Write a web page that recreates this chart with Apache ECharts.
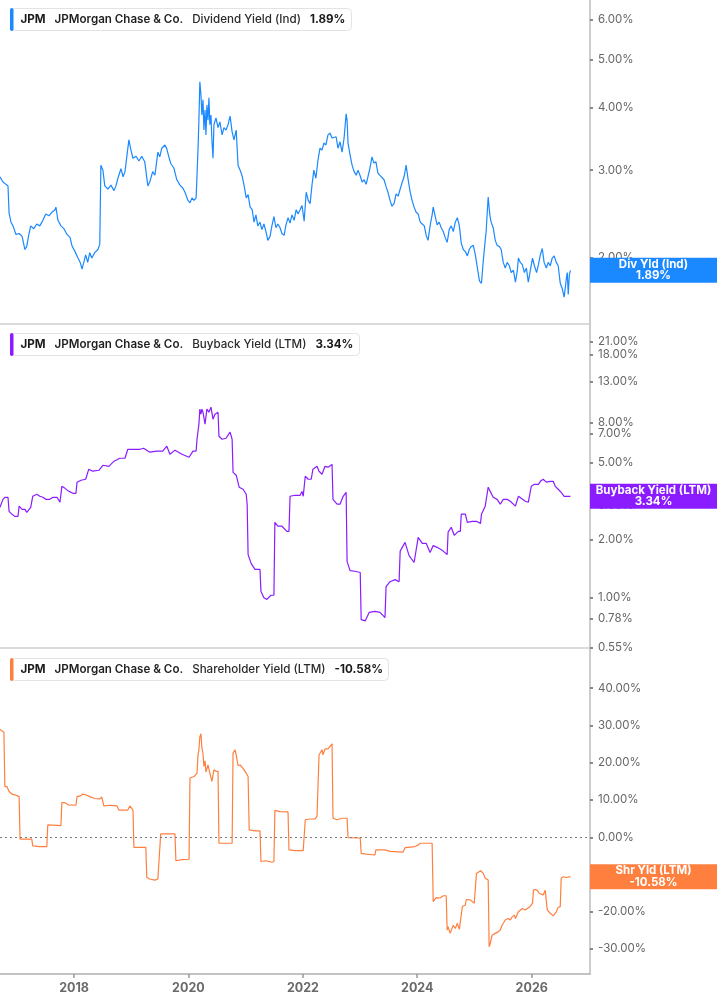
<!DOCTYPE html>
<html>
<head>
<meta charset="utf-8">
<script src="https://cdn.jsdelivr.net/npm/echarts@6/dist/echarts.min.js"></script>
<style>
html,body{margin:0;padding:0;background:#fff;}
#c{width:717px;height:1005px;}
</style>
</head>
<body>
<div id="c"></div>
<script>
// ---------- DATA ----------
const ticker = 'JPM';
const company = 'JPMorgan Chase & Co.';
const divName = 'Dividend Yield (Ind)';
const buyName = 'Buyback Yield (LTM)';
const shrName = 'Shareholder Yield (LTM)';
const divShort = 'Div Yld (Ind)';
const buyShort = 'Buyback Yield (LTM)';
const shrShort = 'Shr Yld (LTM)';
const divLast = 1.89;
const buyLast = 3.34;
const shrLast = -10.58;

const divTicks = [2, 3, 4, 5, 6];
const buyTicks = [0.55, 0.78, 1, 2, 3, 5, 7, 8, 13, 18, 21];
const shrTicks = [-30, -20, -10, 0, 10, 20, 30, 40];
const yearTicks = ['2018-01-01', '2020-01-01', '2022-01-01', '2024-01-01', '2026-01-01'];

const divData = [
['2016-09-15',2.91],['2016-10-04',2.84],['2016-10-23',2.81],['2016-11-05',2.79],['2016-11-12',2.46],['2016-11-24',2.36],
['2016-12-07',2.32],['2016-12-26',2.23],['2017-01-15',2.24],['2017-02-03',2.21],['2017-02-21',2.08],['2017-03-05',2.11],
['2017-03-17',2.22],['2017-03-30',2.32],['2017-04-19',2.29],['2017-05-08',2.34],['2017-05-27',2.32],['2017-06-16',2.38],
['2017-07-04',2.45],['2017-07-24',2.43],['2017-08-12',2.47],['2017-09-01',2.50],['2017-09-07',2.53],['2017-09-20',2.38],
['2017-10-09',2.32],['2017-10-28',2.29],['2017-11-17',2.23],['2017-12-06',2.20],['2017-12-18',2.12],['2018-01-07',2.06],
['2018-01-26',2.00],['2018-02-09',1.96],['2018-02-21',1.90],['2018-03-04',1.96],['2018-03-16',2.03],['2018-03-29',1.96],
['2018-04-11',2.05],['2018-04-24',2.00],['2018-05-13',2.05],['2018-06-02',2.08],['2018-06-14',2.13],['2018-06-21',3.07],
['2018-07-04',3.00],['2018-07-16',2.79],['2018-08-05',2.75],['2018-08-24',2.80],['2018-09-13',2.73],['2018-09-25',2.79],
['2018-10-08',2.89],['2018-10-27',3.02],['2018-11-10',2.91],['2018-11-22',2.98],['2018-12-05',3.22],['2018-12-17',3.45],
['2018-12-30',3.29],['2019-01-12',3.17],['2019-02-01',3.20],['2019-02-19',3.13],['2019-03-09',3.20],['2019-03-28',3.12],
['2019-04-17',2.79],['2019-04-29',2.84],['2019-05-18',2.98],['2019-06-01',2.93],['2019-06-20',3.26],['2019-07-02',3.19],
['2019-07-15',3.32],['2019-08-04',3.37],['2019-08-16',3.31],['2019-08-29',3.19],['2019-09-11',3.09],['2019-09-30',3.03],
['2019-10-19',2.87],['2019-11-08',2.80],['2019-11-27',2.76],['2019-12-10',2.71],['2019-12-29',2.61],['2020-01-11',2.58],
['2020-01-24',2.64],['2020-02-06',2.61],['2020-02-19',2.64],['2020-02-25',2.93],['2020-03-02',3.29],['2020-03-08',3.78],
['2020-03-14',4.51],['2020-03-21',4.25],['2020-03-27',3.87],['2020-04-03',4.15],['2020-04-09',3.61],['2020-04-16',3.96],
['2020-04-22',3.53],['2020-04-28',4.05],['2020-05-05',3.78],['2020-05-11',4.19],['2020-05-17',3.70],['2020-05-24',3.87],
['2020-05-30',3.45],['2020-06-06',3.17],['2020-06-12',3.70],['2020-06-25',3.82],['2020-07-08',3.65],['2020-07-20',3.75],
['2020-08-03',3.53],['2020-08-15',3.65],['2020-08-28',3.61],['2020-09-10',3.70],['2020-09-23',3.85],['2020-10-06',3.58],
['2020-10-18',3.45],['2020-11-01',3.61],['2020-11-13',3.07],['2020-11-26',3.00],['2020-12-09',2.92],['2020-12-21',2.80],
['2021-01-04',2.64],['2021-01-16',2.68],['2021-01-29',2.53],['2021-02-11',2.50],['2021-02-23',2.36],['2021-03-07',2.44],
['2021-03-19',2.32],['2021-04-02',2.36],['2021-04-14',2.28],['2021-04-27',2.34],['2021-05-10',2.26],['2021-05-22',2.17],
['2021-06-05',2.21],['2021-06-17',2.32],['2021-06-30',2.42],['2021-07-13',2.30],['2021-07-25',2.34],['2021-08-08',2.30],
['2021-08-20',2.24],['2021-09-03',2.22],['2021-09-15',2.33],['2021-09-28',2.41],['2021-10-11',2.35],['2021-10-23',2.44],
['2021-11-06',2.38],['2021-11-19',2.50],['2021-12-01',2.45],['2021-12-14',2.50],['2021-12-26',2.55],['2022-01-09',2.37],
['2022-01-22',2.71],['2022-02-04',2.61],['2022-02-16',2.57],['2022-02-28',2.80],['2022-03-12',3.00],['2022-03-25',2.89],
['2022-04-07',3.14],['2022-04-20',3.32],['2022-05-03',3.29],['2022-05-15',3.40],['2022-05-28',3.37],['2022-06-10',3.53],
['2022-06-23',3.56],['2022-07-06',3.48],['2022-07-18',3.45],['2022-08-01',3.50],['2022-08-13',3.32],['2022-08-26',3.42],
['2022-09-08',3.26],['2022-09-21',3.48],['2022-10-04',3.89],['2022-10-10',3.78],['2022-10-16',3.40],['2022-10-29',3.22],
['2022-11-11',3.07],['2022-11-24',2.98],['2022-12-07',2.93],['2022-12-19',3.00],['2023-01-02',2.92],['2023-01-14',2.84],
['2023-01-27',2.87],['2023-02-09',2.81],['2023-02-21',2.83],['2023-03-05',3.03],['2023-03-18',3.19],['2023-03-30',3.10],
['2023-04-12',3.12],['2023-04-25',2.96],['2023-05-08',2.93],['2023-05-20',2.92],['2023-06-03',2.87],['2023-06-16',2.78],
['2023-06-28',2.71],['2023-07-11',2.61],['2023-07-24',2.54],['2023-08-06',2.57],['2023-08-19',2.69],['2023-09-01',2.66],
['2023-09-14',2.75],['2023-09-26',2.83],['2023-10-09',2.91],['2023-10-15',2.98],['2023-10-22',3.07],['2023-11-04',2.87],
['2023-11-17',2.71],['2023-11-29',2.61],['2023-12-12',2.53],['2023-12-25',2.47],['2024-01-07',2.45],['2024-01-20',2.36],
['2024-02-02',2.34],['2024-02-15',2.32],['2024-02-27',2.22],['2024-03-10',2.17],['2024-03-23',2.32],['2024-04-05',2.44],
['2024-04-12',2.53],['2024-04-24',2.43],['2024-05-07',2.33],['2024-05-20',2.36],['2024-06-02',2.30],['2024-06-15',2.26],
['2024-06-27',2.20],['2024-07-10',2.15],['2024-07-23',2.28],['2024-08-05',2.32],['2024-08-18',2.26],['2024-08-31',2.36],
['2024-09-13',2.41],['2024-09-26',2.32],['2024-10-08',2.14],['2024-10-21',2.08],['2024-11-03',2.06],['2024-11-16',2.02],
['2024-11-28',2.08],['2024-12-11',2.11],['2024-12-24',2.12],['2025-01-06',2.03],['2025-01-19',1.91],['2025-02-01',1.80],
['2025-02-14',1.78],['2025-02-26',1.98],['2025-03-10',2.17],['2025-03-16',2.26],['2025-03-22',2.44],['2025-03-29',2.65],
['2025-04-04',2.52],['2025-04-11',2.41],['2025-04-17',2.36],['2025-04-30',2.30],['2025-05-13',2.17],['2025-05-25',2.12],
['2025-06-08',2.11],['2025-06-20',2.08],['2025-07-03',1.96],['2025-07-16',1.91],['2025-07-28',1.96],['2025-08-11',1.93],
['2025-08-23',1.87],['2025-09-06',1.89],['2025-09-19',1.79],['2025-10-01',1.89],['2025-10-08',2.00],['2025-10-20',1.96],
['2025-11-02',1.94],['2025-11-15',1.87],['2025-11-28',1.91],['2025-12-10',1.79],['2025-12-23',1.89],['2026-01-06',2.00],
['2026-01-18',1.93],['2026-02-01',1.87],['2026-02-13',1.94],['2026-02-25',2.03],['2026-03-09',2.09],['2026-03-21',1.96],
['2026-04-04',1.91],['2026-04-16',1.96],['2026-04-29',1.93],['2026-05-12',2.00],['2026-05-24',2.02],['2026-06-07',1.96],
['2026-06-19',1.93],['2026-07-02',1.78],['2026-07-14',1.74],['2026-07-27',1.67],['2026-08-10',1.82],['2026-08-16',1.87],
['2026-08-22',1.69],['2026-08-29',1.85],['2026-09-05',1.89]
];

const buyData = [
['2016-09-15',2.93],['2016-10-04',3.22],['2016-10-16',3.30],['2016-11-05',3.30],['2016-11-12',2.79],['2016-11-30',2.70],
['2016-12-19',2.63],['2017-01-08',2.63],['2017-01-15',2.97],['2017-02-03',2.86],['2017-02-21',2.86],['2017-03-05',2.76],
['2017-03-30',2.93],['2017-04-12',3.34],['2017-05-08',3.42],['2017-05-27',3.34],['2017-06-16',3.30],['2017-07-04',3.22],
['2017-07-30',3.22],['2017-08-19',3.30],['2017-09-14',3.30],['2017-10-03',3.11],['2017-10-15',3.76],['2017-11-04',3.67],
['2017-11-29',3.54],['2017-12-25',3.46],['2018-01-13',3.46],['2018-01-20',3.95],['2018-02-14',4.04],['2018-03-16',4.09],
['2018-04-05',4.61],['2018-04-30',4.50],['2018-06-08',4.55],['2018-07-04',4.83],['2018-08-11',4.77],['2018-09-13',5.07],
['2018-10-20',5.25],['2018-11-22',5.25],['2018-12-10',5.84],['2019-01-18',5.84],['2019-02-26',5.84],['2019-03-21',5.91],
['2019-04-29',5.64],['2019-06-13',5.71],['2019-07-21',5.71],['2019-08-16',6.06],['2019-09-05',5.51],['2019-10-07',5.78],
['2019-11-21',5.51],['2020-01-05',5.31],['2020-01-30',5.71],['2020-02-19',5.71],['2020-02-25',6.58],['2020-03-08',7.87],
['2020-03-14',9.41],['2020-03-21',8.86],['2020-03-27',9.41],['2020-04-03',9.08],['2020-04-16',7.87],['2020-04-28',9.41],
['2020-05-11',9.08],['2020-05-24',9.64],['2020-06-06',8.35],['2020-06-18',8.86],['2020-07-08',9.08],['2020-07-14',6.82],
['2020-08-03',6.58],['2020-08-28',6.66],['2020-09-23',7.16],['2020-10-06',6.58],['2020-10-12',4.44],['2020-11-01',4.29],
['2020-11-20',3.72],['2020-12-15',3.63],['2021-01-04',3.42],['2021-01-10',3.04],['2021-01-16',1.67],['2021-02-05',1.50],
['2021-03-01',1.40],['2021-04-02',1.40],['2021-04-08',1.08],['2021-04-27',1.00],['2021-05-16',0.98],['2021-06-11',1.03],
['2021-06-30',1.03],['2021-07-06',2.45],['2021-07-25',2.34],['2021-08-20',2.34],['2021-09-21',2.20],['2021-10-04',2.20],
['2021-10-11',3.34],['2021-11-12',3.38],['2021-12-14',3.38],['2021-12-26',3.54],['2022-01-03',3.34],['2022-01-16',4.24],
['2022-02-04',4.09],['2022-02-23',4.09],['2022-03-06',4.61],['2022-04-01',4.77],['2022-04-14',4.50],['2022-05-03',4.34],
['2022-05-22',4.77],['2022-06-10',4.72],['2022-07-06',4.88],['2022-07-12',3.22],['2022-08-07',3.04],['2022-08-26',3.04],
['2022-09-15',3.34],['2022-10-04',3.50],['2022-10-10',1.54],['2022-10-29',1.38],['2022-11-30',1.37],['2023-01-02',1.35],
['2023-01-08',0.77],['2023-02-03',0.76],['2023-02-28',0.84],['2023-04-06',0.85],['2023-05-08',0.84],['2023-05-27',0.81],
['2023-06-09',0.79],['2023-06-16',1.14],['2023-07-11',1.21],['2023-08-12',1.24],['2023-09-07',1.21],['2023-09-14',1.74],
['2023-10-15',1.93],['2023-11-10',1.65],['2023-12-12',1.52],['2024-01-07',2.05],['2024-02-02',1.91],['2024-02-27',1.91],
['2024-03-23',1.71],['2024-04-12',1.86],['2024-05-07',1.82],['2024-06-08',1.76],['2024-07-10',1.67],['2024-07-16',2.18],
['2024-08-05',2.31],['2024-08-24',2.10],['2024-09-19',2.20],['2024-10-02',2.20],['2024-10-08',2.70],['2024-11-03',2.70],
['2024-11-16',2.45],['2024-12-17',2.48],['2025-01-13',2.48],['2025-02-08',2.42],['2025-02-14',2.70],['2025-03-10',2.97],
['2025-03-29',3.72],['2025-04-11',3.54],['2025-04-30',3.30],['2025-05-25',3.22],['2025-06-14',3.04],['2025-07-03',3.22],
['2025-07-28',3.22],['2025-08-17',3.15],['2025-09-19',2.97],['2025-10-08',3.34],['2025-10-26',3.26],['2025-11-21',3.15],
['2025-12-10',3.11],['2025-12-29',3.76],['2026-01-18',3.85],['2026-02-13',3.85],['2026-02-25',3.99],['2026-03-15',4.09],
['2026-04-04',3.95],['2026-04-29',3.99],['2026-05-18',3.99],['2026-05-31',3.76],['2026-06-19',3.63],['2026-07-08',3.50],
['2026-07-27',3.34],['2026-08-16',3.34],['2026-09-05',3.34]
];

const shrData = [
['2016-09-15',28.9],['2016-10-10',28.2],['2016-10-16',13.6],['2016-10-29',13.6],['2016-11-12',12.3],['2016-11-30',11.6],
['2016-12-19',11.4],['2017-01-15',10.9],['2017-01-21',-0.5],['2017-04-06',-0.5],['2017-04-12',-2.3],['2017-05-27',-2.5],
['2017-07-11',-2.5],['2017-07-17',3.3],['2017-10-09',3.1],['2017-10-15',9.3],['2017-11-04',9.3],['2017-11-23',8.7],
['2018-01-13',8.6],['2018-01-20',10.9],['2018-02-09',11.1],['2018-02-27',11.6],['2018-03-16',11.4],['2018-04-11',10.9],
['2018-05-13',10.4],['2018-06-14',10.3],['2018-06-27',10.8],['2018-07-10',8.4],['2018-08-18',8.6],['2018-10-02',8.4],
['2018-10-14',7.3],['2018-12-10',7.3],['2018-12-23',8.4],['2019-01-12',7.3],['2019-01-18',-2.7],['2019-04-04',-2.7],
['2019-04-10',-10.8],['2019-04-29',-11.2],['2019-06-01',-11.5],['2019-06-20',-11.2],['2019-07-02',-10.8],['2019-07-08',0.9],
['2019-10-07',0.9],['2019-10-13',-6.3],['2019-11-21',-6.0],['2020-01-05',-5.9],['2020-01-11',15.9],['2020-02-06',16.3],
['2020-02-25',17.2],['2020-03-02',22.0],['2020-03-08',23.5],['2020-03-14',27.0],['2020-03-21',27.8],['2020-03-27',24.0],
['2020-04-03',22.5],['2020-04-09',19.0],['2020-04-16',20.5],['2020-04-22',17.5],['2020-05-05',19.4],['2020-05-17',17.2],
['2020-05-30',15.0],['2020-06-12',18.1],['2020-06-25',17.7],['2020-07-08',17.7],['2020-07-14',-1.6],['2020-10-06',-1.6],
['2020-10-12',22.6],['2020-10-25',23.5],['2020-11-01',22.1],['2020-11-13',19.2],['2020-11-26',19.4],['2020-12-15',18.5],
['2021-01-04',17.2],['2021-01-16',16.3],['2021-01-23',2.0],['2021-03-01',1.7],['2021-04-02',1.7],['2021-04-08',-6.5],
['2021-05-10',-6.3],['2021-06-17',-6.7],['2021-06-30',-6.5],['2021-07-06',7.2],['2021-08-08',6.9],['2021-09-28',6.8],
['2021-10-04',-3.4],['2021-11-12',-3.6],['2022-01-03',-3.6],['2022-01-16',4.7],['2022-02-16',4.9],['2022-03-19',4.9],
['2022-04-01',5.6],['2022-04-07',5.6],['2022-04-14',22.1],['2022-05-03',23.5],['2022-05-09',22.1],['2022-05-22',23.7],
['2022-06-10',23.7],['2022-06-23',24.4],['2022-07-06',25.1],['2022-07-12',5.1],['2022-08-07',4.7],['2022-09-08',5.1],
['2022-10-10',5.1],['2022-10-16',-0.1],['2023-01-02',-0.2],['2023-01-08',-4.3],['2023-02-09',-4.5],['2023-03-24',-4.7],
['2023-04-06',-4.7],['2023-04-12',-3.4],['2023-06-09',-3.4],['2023-07-11',-3.8],['2023-10-02',-4.0],['2023-10-15',-2.8],
['2023-12-18',-2.5],['2024-01-07',-2.1],['2024-01-20',-1.6],['2024-04-05',-1.6],['2024-04-12',-17.3],['2024-05-01',-16.2],
['2024-05-26',-16.3],['2024-06-15',-15.7],['2024-07-04',-15.7],['2024-07-10',-24.9],['2024-07-16',-24.0],['2024-07-29',-25.8],
['2024-08-18',-23.6],['2024-08-31',-24.5],['2024-09-13',-23.1],['2024-09-26',-24.7],['2024-10-08',-24.5],['2024-10-15',-18.6],
['2024-11-03',-18.2],['2024-11-09',-16.7],['2024-12-04',-16.8],['2024-12-30',-17.7],['2025-01-06',-17.3],['2025-01-13',-9.7],
['2025-02-08',-9.0],['2025-02-26',-9.7],['2025-03-10',-11.0],['2025-03-22',-10.6],['2025-03-29',-11.5],['2025-04-04',-29.4],
['2025-04-11',-28.5],['2025-04-23',-26.3],['2025-05-13',-25.8],['2025-06-01',-25.4],['2025-06-14',-24.9],['2025-06-26',-23.6],
['2025-07-16',-22.2],['2025-08-04',-21.8],['2025-08-17',-22.2],['2025-08-30',-21.3],['2025-09-12',-20.9],['2025-09-19',-21.8],
['2025-10-08',-20.0],['2025-10-20',-20.4],['2025-11-02',-19.1],['2025-11-21',-19.5],['2025-12-04',-19.1],['2025-12-23',-18.5],
['2026-01-06',-17.7],['2026-01-12',-14.2],['2026-01-25',-14.0],['2026-02-07',-14.3],['2026-02-20',-15.1],['2026-03-03',-14.9],
['2026-03-15',-15.5],['2026-03-28',-14.2],['2026-04-04',-14.2],['2026-04-10',-19.5],['2026-04-29',-20.4],['2026-05-18',-21.1],
['2026-06-07',-20.0],['2026-06-19',-18.8],['2026-07-02',-18.6],['2026-07-08',-11.0],['2026-07-21',-10.6],['2026-08-10',-10.8],
['2026-09-05',-10.58]
];

// ---------- CHART ----------
const FONT = 'Inter, "Noto Sans", sans-serif';
const C_DIV = '#1a88ff';
const C_BUY = '#8a1cff';
const C_SHR = '#ff7f3f';
const ts = s => +echarts.time.parse(s);
const X_MIN = ts('2016-09-15');
const X_MAX = ts('2027-01-08');
const pct = v => v.toFixed(2) + '%';
const yearTickTs = yearTicks.map(ts);
const toTs = arr => arr.map(p => [ts(p[0]), p[1]]);
const TFS = 11.6;

function titleOpt(top, color, name, last) {
  return {
    left: 10, top: top,
    text: '{bar|}{g0|}{tk|' + ticker + '}{g|}{nm|' + company + '}{g|}{ds|' + name + '}{g|}{vl|' + pct(last) + '}',
    backgroundColor: '#fff', borderColor: '#e3e3e3', borderWidth: 1, borderRadius: 4,
    padding: [0, 6, 0, 0],
    textStyle: {
      fontFamily: FONT, fontSize: TFS,
      rich: {
        bar: { width: 3.5, height: 23, backgroundColor: color, borderRadius: 2 },
        g0: { width: 7 },
        g: { width: 9 },
        tk: { fontFamily: FONT, fontSize: TFS, fontWeight: 'bold', color: '#1a1a1a' },
        nm: { fontFamily: FONT, fontSize: TFS, fontWeight: 600, color: '#1f1f1f' },
        ds: { fontFamily: FONT, fontSize: TFS, fontWeight: 500, color: '#2a2a2a' },
        vl: { fontFamily: FONT, fontSize: TFS, fontWeight: 'bold', color: '#1a1a1a' }
      }
    }
  };
}

function xAx(gi, showLabels) {
  return {
    type: 'value', gridIndex: gi, min: X_MIN, max: X_MAX, scale: true,
    axisLine: { show: true, onZero: false, lineStyle: { color: showLabels ? '#b0b0b0' : '#d0d0d0', width: 1.5 } },
    axisTick: { show: showLabels, customValues: yearTickTs, length: 4, lineStyle: { color: '#999', width: 1.5 } },
    axisLabel: {
      show: showLabels, customValues: yearTickTs, margin: 8,
      formatter: v => String(new Date(v).getFullYear()),
      color: '#6a6a6a', fontSize: 12.5, fontWeight: 'bold', fontFamily: FONT
    },
    splitLine: { show: false }
  };
}

function yAx(gi, type, min, max, ticks) {
  return {
    type: type, gridIndex: gi, position: 'right', min: min, max: max,
    axisLine: { show: true, lineStyle: { color: '#bdbdbd', width: 1.5 } },
    axisTick: { show: true, customValues: ticks, length: 3, lineStyle: { color: '#666', width: 1.5 } },
    axisLabel: { customValues: ticks, formatter: pct, color: '#666', fontSize: 11.5, margin: 8, fontFamily: FONT },
    splitLine: { show: false }
  };
}

function endLabel(value, shortName, color) {
  return {
    yAxis: value,
    lineStyle: { color: 'rgba(0,0,0,0)', width: 0 },
    label: {
      show: true, position: 'end', distance: 0,
      formatter: '{a|' + shortName + '}\n{a|' + pct(value) + '}',
      backgroundColor: color, padding: [1, 0, 1, 0], color: '#fff',
      rich: { a: { align: 'center', width: 127, color: '#fff', fontWeight: 'bold', fontSize: 11.5, lineHeight: 11.5, fontFamily: FONT } }
    }
  };
}

function lineSeries(gi, data, color, marks) {
  return {
    type: 'line', xAxisIndex: gi, yAxisIndex: gi, data: toTs(data),
    showSymbol: false, symbol: 'none', sampling: 'none', clip: false,
    lineStyle: { color: color, width: 1.2 }, itemStyle: { color: color },
    emphasis: { disabled: true },
    markLine: { silent: true, symbol: 'none', animation: false, z: 10, data: marks }
  };
}

const chart = echarts.init(document.getElementById('c'), null, { renderer: 'canvas' });
chart.setOption({
  animation: false,
  backgroundColor: '#fff',
  textStyle: { fontFamily: FONT },
  title: [
    titleOpt(8, C_DIV, divName, divLast),
    titleOpt(333, C_BUY, buyName, buyLast),
    titleOpt(658, C_SHR, shrName, shrLast)
  ],
  grid: [
    { left: 0, right: 127, top: 0, height: 324 },
    { left: 0, right: 127, top: 324, height: 324 },
    { left: 0, right: 127, top: 648, height: 326 }
  ],
  xAxis: [xAx(0, false), xAx(1, false), xAx(2, true)],
  yAxis: [
    yAx(0, 'log', 1.475, 6.58, divTicks),
    yAx(1, 'log', 0.55, 25.9, buyTicks),
    yAx(2, 'value', -36.7, 50.8, shrTicks)
  ],
  series: [
    lineSeries(0, divData, C_DIV, [endLabel(divLast, divShort, C_DIV)]),
    lineSeries(1, buyData, C_BUY, [endLabel(buyLast, buyShort, C_BUY)]),
    lineSeries(2, shrData, C_SHR, [
      { yAxis: 0, lineStyle: { type: [2, 3], color: '#7a7a7a', width: 1 }, label: { show: false } },
      endLabel(shrLast, shrShort, C_SHR)
    ])
  ]
});
</script>
</body>
</html>
